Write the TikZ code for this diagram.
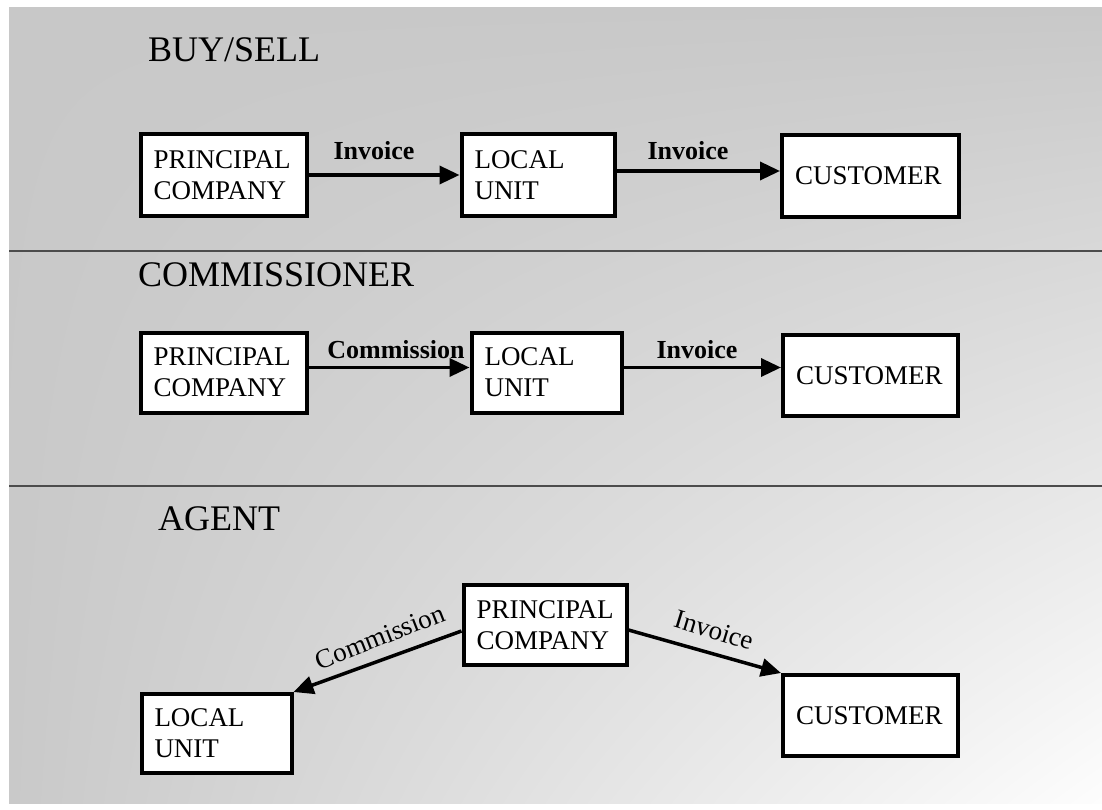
\documentclass[tikz,border=0pt]{standalone}
\usepackage{fontspec}
\setmainfont{Liberation Serif}
\usetikzlibrary{arrows.meta,shadings}
\definecolor{bgdark}{RGB}{200,200,200}
\definecolor{bgdarkb}{RGB}{201,201,201}
\definecolor{bglight}{RGB}{253,253,253}
\begin{document}
\begin{tikzpicture}[x=1pt,y=-1pt,
  box/.style={draw, line width=4pt, fill=white, inner xsep=13pt, inner ysep=0pt, align=left, font=\fontsize{27}{31}\selectfont},
  arr/.style={line width=3.5pt, -{Triangle[length=20pt,width=18pt]}},
  lbl/.style={font=\fontsize{26}{30}\selectfont\bfseries, anchor=base, inner sep=0pt},
  alb/.style={font=\fontsize{27}{30}\selectfont, inner sep=0pt},
  ttl/.style={font=\fontsize{36}{40}\selectfont, anchor=base west, inner sep=0pt},
  sep/.style={line width=2pt, draw=black!70}]
\useasboundingbox (0,0) rectangle (1102,810);
\fill[white] (0,0) rectangle (1102,810);
\shade[upper left=bgdark, upper right=bgdark, lower left=bgdarkb, lower right=bglight]
  (9,8) rectangle (1102,803);
\draw[sep] (9,251.5) -- (1102,251.5);
\draw[sep] (9,485.5) -- (1102,485.5);

% BUY/SELL
\node[ttl] (t1) at (148,62) {BUY/SELL};
\node[box, text width=140pt, minimum height=82pt] (a1) at (223.5,175) {PRINCIPAL\\COMPANY};
\node[box, text width=127pt, minimum height=82pt] (b1) at (538,175) {LOCAL\\UNIT};
\node[box, text width=151pt, minimum height=82pt] (c1) at (870.5,176) {CUSTOMER};
\draw[arr] (a1.east) -- (b1.west);
\draw[arr] ([yshift=4pt]b1.east) -- ([yshift=4pt]c1.west |- b1.east);
\node[lbl] (l11) at (374,160) {Invoice};
\node[lbl] (l12) at (688,160) {Invoice};

% COMMISSIONER
\node[ttl] (t2) at (138,287) {COMMISSIONER};
\node[box, text width=140pt, minimum height=80pt] (a2) at (223.5,372.5) {PRINCIPAL\\COMPANY};
\node[box, text width=124pt, minimum height=80pt] (b2) at (546.5,372.5) {LOCAL\\UNIT};
\node[box, text width=149pt, minimum height=81pt] (c2) at (870.5,375.5) {CUSTOMER};
\draw[arr] ([yshift=5pt]a2.east) -- ([yshift=5pt]b2.west);
\draw[arr] ([yshift=5pt]b2.east) -- ([yshift=5pt]c2.west |- b2.east);
\node[lbl] (l21) at (396,358) {Commission};
\node[lbl] (l22) at (697,358) {Invoice};

% AGENT
\node[ttl] (t3) at (158,530) {AGENT};
\node[box, text width=137pt, minimum height=80pt] (a3) at (545,625) {PRINCIPAL\\COMPANY};
\node[box, text width=124pt, minimum height=79pt] (b3) at (216.5,733.5) {LOCAL\\UNIT};
\node[box, text width=149pt, minimum height=81pt] (c3) at (870.5,715.5) {CUSTOMER};
\draw[arr] ([yshift=-6pt]a3.west) -- (b3.north east);
\draw[arr] ([yshift=-5pt]a3.east) -- (c3.north west);
\node[alb, rotate=21.5] (l31) at (380,637) {Commission};
\node[alb, rotate=-17] (l32) at (714,630) {Invoice};
\end{tikzpicture}
\end{document}
